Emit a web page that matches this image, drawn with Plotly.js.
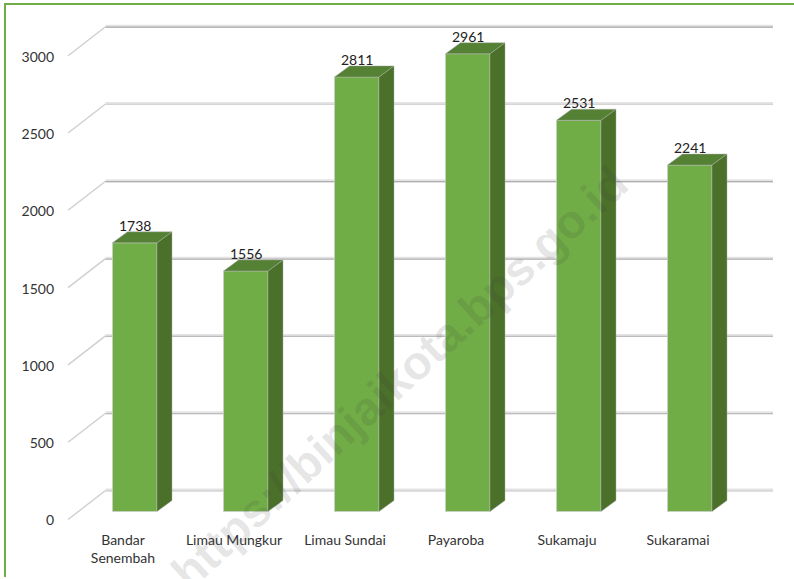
<!DOCTYPE html>
<html><head><meta charset="utf-8">
<script src="https://cdn.plot.ly/plotly-3.0.1.min.js"></script>
<style>html,body{margin:0;padding:0;background:#fff}#c{width:794px;height:579px}</style>
</head><body><div id="c"></div>
<script>
const categories = ['Bandar<br>Senembah','Limau Mungkur','Limau Sundai','Payaroba','Sukamaju','Sukaramai'];
const values = [1738,1556,2811,2961,2531,2241];
const tickValues = [0,500,1000,1500,2000,2500,3000];
const gridColors = ['#d2d2d2','#bdbdbd','#bcbcbc','#b4b4b4','#9c9c9c','#d4d4d4','#a8a8a8'];

const W=794,H=579,L=60,R=785,T=15,B=530;
const pxX=111, x0=123, s=0.1546;          // pixels per category, first label x, pixels per unit
const zeroLabel=520.5, zeroBar=511.5;     // pixel rows of 0 on the two value axes
const barW=44.5/pxX, barOff=-10.5/pxX;
const depthX=15/pxX, depthV=11/s;         // bar depth
const wallX=38/pxX, wallV=30/s;           // floor depth
const slantLift=1/s;
const xr=[(L-x0)/pxX,(R-x0)/pxX];
const yr=[(zeroLabel-B)/s,(zeroLabel-T)/s];
const y2r=[(zeroBar-B)/s,(zeroBar-T)/s];
const xLeft=-0.5, xRight=(773-x0)/pxX;
const idx=categories.map((_,i)=>i);

const traces=[];
const base={type:'scatter',mode:'lines',xaxis:'x',yaxis:'y',hoverinfo:'skip',showlegend:false};
tickValues.forEach((v,i)=>{
  traces.push({...base,x:[xLeft+0.005,xLeft+wallX],y:[v+slantLift,v+wallV],line:{color:'#cfcfcf',width:1.4}});
  traces.push({...base,x:[xLeft+wallX,xRight],y:[v+wallV+3,v+wallV+3],line:{color:'#e4e4e4',width:3}});
  traces.push({...base,x:[xLeft+wallX,xRight],y:[v+wallV-3,v+wallV-3],line:{color:gridColors[i],width:1.2}});
});
traces.push({type:'bar',x:idx,y:values,xaxis:'x',yaxis:'y2',width:barW,offset:barOff,showlegend:false,
  marker:{color:'#70ad47',line:{color:'rgba(205,205,205,0.7)',width:1}}});
values.forEach((v,i)=>{
  const a=i+barOff, b=a+barW;
  traces.push({type:'scatter',mode:'lines',fill:'toself',fillcolor:'#4a7029',xaxis:'x',yaxis:'y2',showlegend:false,hoverinfo:'skip',
    x:[b,b+depthX,b+depthX,b,b],y:[0,depthV,v+depthV,v,0],line:{color:'rgba(170,170,170,0.45)',width:1}});
  traces.push({type:'scatter',mode:'lines',fill:'toself',fillcolor:'#558135',xaxis:'x',yaxis:'y2',showlegend:false,hoverinfo:'skip',
    x:[a,a+depthX,b+depthX,b,a],y:[v,v+depthV,v+depthV,v,v],line:{color:'rgba(170,170,170,0.45)',width:1}});
});

const font={family:'Lato,"Open Sans",sans-serif',size:14,color:'#333333'};
const annotations=values.map((v,i)=>({
  x:i+barOff+barW/2,y:v,xref:'x',yref:'y2',yshift:17.5,showarrow:false,text:String(v),
  font:{family:font.family,size:14,color:'#222222'},xanchor:'center',yanchor:'middle'
}));
annotations.push({xref:'paper',yref:'paper',x:(399-L)/(R-L),y:(B-377)/(B-T),showarrow:false,
  text:'<b>https://binjaikota.bps.go.id</b>',textangle:-42.5,
  font:{family:'"Liberation Sans",sans-serif',size:47,color:'rgba(60,60,60,0.13)'},xanchor:'center',yanchor:'middle'});

const px=v=>(v-L)/(R-L), py=v=>(B-v)/(B-T);
Plotly.newPlot('c',traces,{
  width:W,height:H,showlegend:false,paper_bgcolor:'#fff',plot_bgcolor:'#fff',
  margin:{l:L,r:W-R,t:T,b:H-B,pad:0},bargap:0,
  xaxis:{range:xr,tickmode:'array',tickvals:idx,ticktext:categories,showgrid:false,zeroline:false,showline:false,
    ticks:'',tickangle:0,tickfont:font,ticklabelstandoff:0},
  yaxis:{range:yr,tickmode:'array',tickvals:tickValues,ticktext:tickValues.map(String),showgrid:false,zeroline:false,showline:false,
    ticks:'',tickfont:font,ticklabelstandoff:5},
  yaxis2:{range:y2r,overlaying:'y',side:'left',visible:false,showgrid:false,zeroline:false},
  annotations,
  shapes:[
    {type:'line',xref:'paper',yref:'paper',x0:px(5),x1:px(5),y0:py(577),y1:py(3),line:{color:'#70ad47',width:2}},
    {type:'line',xref:'paper',yref:'paper',x0:px(4),x1:px(794),y0:py(4),y1:py(4),line:{color:'#70ad47',width:2}}
  ]
},{staticPlot:true,displayModeBar:false});
</script></body></html>
